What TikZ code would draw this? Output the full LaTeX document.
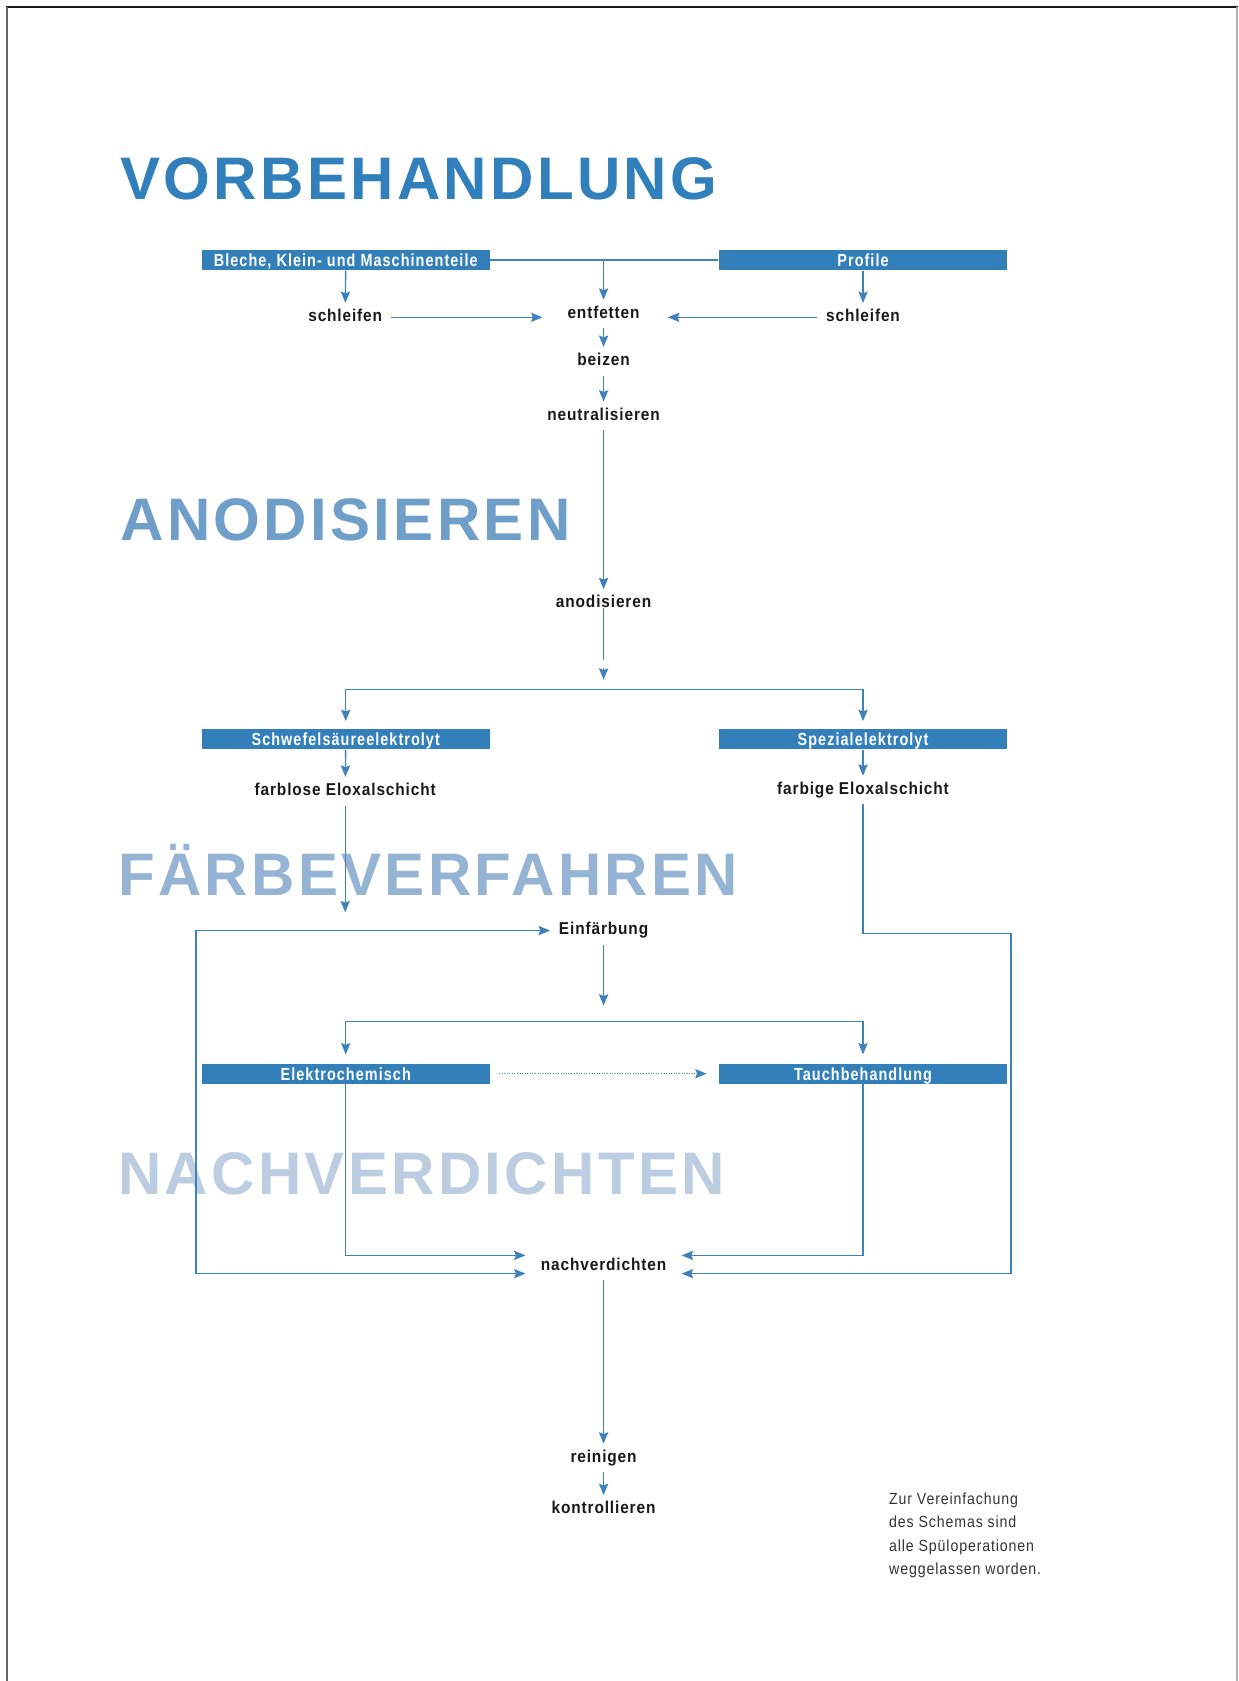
\documentclass[tikz,border=0pt]{standalone}
\usepackage{fontspec}
\setmainfont{Liberation Sans}
\newfontfamily\headfont[LetterSpace=5.5]{Liberation Sans}
\newfontfamily\lblfont[FakeStretch=0.9,LetterSpace=5]{Liberation Sans}
\newfontfamily\bxfont[FakeStretch=0.82,LetterSpace=6]{Liberation Sans}
\newfontfamily\ntfont[FakeStretch=0.88,LetterSpace=5.5]{Liberation Sans}
\usetikzlibrary{arrows.meta,calc}
\definecolor{hA}{RGB}{50,128,187}
\definecolor{hB}{RGB}{111,159,201}
\definecolor{hC}{RGB}{149,180,211}
\definecolor{hD}{RGB}{188,205,225}
\definecolor{boxblue}{RGB}{50,127,186}
\definecolor{lineblue}{RGB}{62,130,189}
\definecolor{txt}{RGB}{25,25,25}
\definecolor{notetxt}{RGB}{50,50,50}
\begin{document}
\begin{tikzpicture}[x=0.5pt,y=-0.5pt,
  heading/.style={anchor=base west, inner sep=0, font=\headfont\bfseries\fontsize{28pt}{32pt}\selectfont},
  stepbox/.style={fill=boxblue, text=white, inner sep=0, minimum width=134.5pt, minimum height=9.5pt, text height=5.9pt, text depth=0pt, font=\bxfont\bfseries\fontsize{8.2pt}{9pt}\selectfont},
  lbl/.style={anchor=base, text=txt, inner xsep=4pt, inner ysep=2.5pt, text height=6pt, text depth=2pt, font=\lblfont\bfseries\fontsize{8pt}{10pt}\selectfont},
  note/.style={anchor=base west, inner sep=0, text=notetxt, font=\ntfont\fontsize{7.5pt}{11pt}\selectfont},
  conn/.style={draw=lineblue, line width=0.65pt},
  tip/.tip={Stealth[length=5.3pt,width=4.3pt,inset=0.8pt]},
  arr/.style={conn, -tip},
  darr/.style={conn, tip-tip},
  dotarr/.style={draw=lineblue, line width=0.45pt, dash pattern=on 0.45pt off 0.75pt, -tip},
]
\useasboundingbox (0,0) rectangle (1155,1568);
% frame
\draw[black!90, line width=0.9pt] (6,6.5) -- (1155,6.5);
\draw[black!60, line width=0.5pt] (6.5,6.5) -- (6.5,1568);
\draw[black!30, line width=0.8pt] (1153.5,6.5) -- (1153.5,1568);

% headings
\node[heading, text=hA] (h1) at (112,186) {VORBEHANDLUNG};
\node[heading, text=hB] (h2) at (112,504) {ANODISIEREN};
\node[heading, text=hC] (h3) at (110,835) {FÄRBEVERFAHREN};
\node[heading, text=hD] (h4) at (110,1114) {NACHVERDICHTEN};

% boxes
\node[stepbox] (bleche) at (322.5,242.5) {Bleche, Klein- und Maschinenteile};
\node[stepbox] (profile) at (805,242.5) {Profile};
\node[stepbox] (schwefel) at (322.5,689.5) {Schwefelsäureelektrolyt};
\node[stepbox] (spezial) at (805,689.5) {Spezialelektrolyt};
\node[stepbox] (elektro) at (322.5,1001.5) {Elektrochemisch};
\node[stepbox] (tauch) at (805,1001.5) {Tauchbehandlung};

% labels
\node[lbl] (schlL) at (322,300) {schleifen};
\node[lbl] (entf) at (563,297) {entfetten};
\node[lbl] (schlR) at (805,300) {schleifen};
\node[lbl] (beiz) at (563,341) {beizen};
\node[lbl] (neut) at (563,392) {neutralisieren};
\node[lbl] (anod) at (563,567) {anodisieren};
\node[lbl] (farblose) at (322,742) {farblose Eloxalschicht};
\node[lbl] (farbige) at (805,741) {farbige Eloxalschicht};
\node[lbl] (einf) at (563,872) {Einfärbung};
\node[lbl, inner xsep=7pt] (nach) at (563,1185) {nachverdichten};
\node[lbl] (rein) at (563,1364) {reinigen};
\node[lbl] (kontr) at (563,1412) {kontrollieren};

% note
\node[note] (n1) at (829,1403) {Zur Vereinfachung};
\node[note] (n2) at (829,1425) {des Schemas sind};
\node[note] (n3) at (829,1447) {alle Spüloperationen};
\node[note] (n4) at (829,1469) {weggelassen worden.};

% junction coordinates
\coordinate (j1) at (563,242.5);
\coordinate (j2) at (563,643);
\coordinate (j3) at (563,953);
\coordinate (rt) at (943,871);
\coordinate (lb) at (183,868);

% Vorbehandlung
\draw[conn] (bleche.east) -- (profile.west);
\draw[arr] (j1) -- (entf);
\draw[arr] (bleche) -- (schlL);
\draw[arr] (profile) -- (schlR);
\draw[arr, shorten >=7.5pt] (schlL.east) -- (schlL.east -| entf.west);
\draw[arr, shorten >=9pt] (schlR.west) -- (schlR.west -| entf.east);
\draw[arr] (entf) -- (beiz);
\draw[arr] (beiz) -- (neut);
\draw[arr] (neut) -- (anod);

% Anodisieren
\draw[conn, shorten >=13.5pt] (anod.base) -- (j2);
\draw[arr] ($(j2)+(0,-20)$) -- ($(j2)+(0,-9)$);
\draw[arr, shorten >=3.5pt] (j2) -| (schwefel);
\draw[arr, shorten >=3.5pt] (j2) -| (spezial);
\draw[arr] (schwefel) -- (farblose);
\draw[arr] (spezial) -- (farbige);

% Faerbeverfahren
\draw[arr, shorten >=8.5pt] (farblose) -- (farblose |- einf);
\draw[arr] (farbige) |- (rt) |- ([yshift=-3.5pt]nach.east);
\draw[darr] ([yshift=-3.5pt]nach.west) -| (lb) -- (einf.west);
\draw[arr, shorten >=7.5pt] (einf) -- (j3);
\draw[arr, shorten >=4pt] (j3) -| (elektro);
\draw[arr, shorten >=4pt] (j3) -| (tauch);
\draw[dotarr, shorten <=4pt, shorten >=5.5pt] (elektro.east) -- (tauch.west);

% Nachverdichten
\draw[arr] (elektro) |- ([yshift=5pt]nach.west);
\draw[arr] (tauch) |- ([yshift=5pt]nach.east);
\draw[arr] (nach) -- (rein);
\draw[arr] (rein) -- (kontr);
\end{tikzpicture}
\end{document}
